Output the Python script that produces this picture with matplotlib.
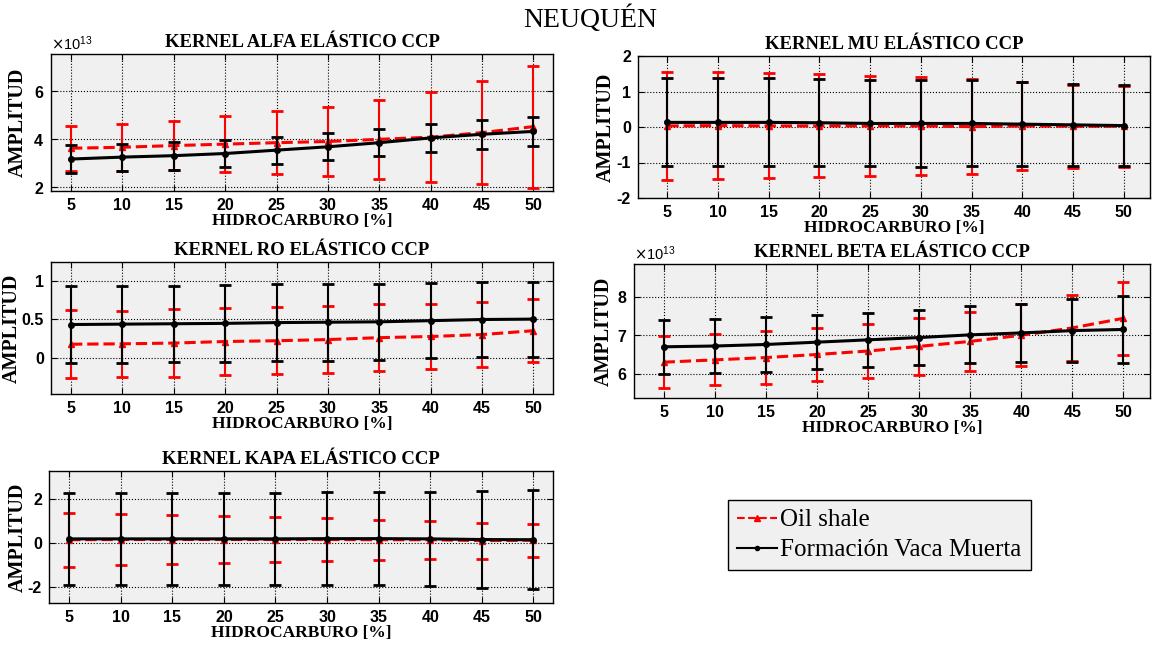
import numpy as np
import matplotlib
matplotlib.use("Agg")
import matplotlib.pyplot as plt
from matplotlib.ticker import ScalarFormatter, FuncFormatter
from matplotlib.lines import Line2D

# Hydrocarbon percentage (x axis of every panel)
pct = [5, 10, 15, 20, 25, 30, 35, 40, 45, 50]

# ALFA kernel (x 1e13)
alfa_shale = [3.63, 3.67, 3.74, 3.80, 3.86, 3.91, 4.00, 4.09, 4.28, 4.53]
alfa_shale_err = [0.93, 0.98, 1.03, 1.17, 1.30, 1.45, 1.63, 1.86, 2.14, 2.54]
alfa_vm = [3.18, 3.26, 3.32, 3.41, 3.55, 3.69, 3.86, 4.06, 4.21, 4.33]
alfa_vm_err = [0.58, 0.56, 0.58, 0.57, 0.56, 0.56, 0.57, 0.58, 0.61, 0.59]

# MU kernel
mu_shale = [0.03, 0.04, 0.03, 0.03, 0.03, 0.03, 0.01, 0.03, 0.02, 0.02]
mu_shale_err = [1.52, 1.50, 1.48, 1.45, 1.41, 1.38, 1.33, 1.25, 1.17, 1.14]
mu_vm = [0.13, 0.13, 0.13, 0.12, 0.10, 0.10, 0.10, 0.08, 0.06, 0.04]
mu_vm_err = [1.24, 1.24, 1.24, 1.23, 1.21, 1.22, 1.21, 1.18, 1.15, 1.15]

# RO kernel
ro_shale = [0.175, 0.18, 0.19, 0.21, 0.22, 0.235, 0.26, 0.275, 0.30, 0.35]
ro_shale_err = [0.44, 0.43, 0.435, 0.435, 0.435, 0.435, 0.43, 0.425, 0.42, 0.41]
ro_vm = [0.43, 0.435, 0.44, 0.445, 0.455, 0.46, 0.465, 0.48, 0.495, 0.50]
ro_vm_err = [0.50, 0.50, 0.49, 0.50, 0.495, 0.50, 0.495, 0.49, 0.49, 0.485]

# BETA kernel (x 1e13)
beta_shale = [6.30, 6.36, 6.42, 6.50, 6.59, 6.71, 6.84, 7.00, 7.19, 7.44]
beta_shale_err = [0.67, 0.66, 0.68, 0.69, 0.70, 0.73, 0.77, 0.81, 0.86, 0.95]
beta_vm = [6.70, 6.72, 6.76, 6.82, 6.88, 6.94, 7.01, 7.06, 7.12, 7.15]
beta_vm_err = [0.70, 0.70, 0.71, 0.70, 0.70, 0.71, 0.74, 0.75, 0.82, 0.88]

# KAPA kernel
kapa_shale = [0.16, 0.17, 0.17, 0.17, 0.17, 0.17, 0.16, 0.16, 0.12, 0.14]
kapa_shale_err = [1.22, 1.165, 1.12, 1.07, 1.02, 0.965, 0.92, 0.865, 0.82, 0.745]
kapa_vm = [0.20, 0.20, 0.20, 0.20, 0.20, 0.21, 0.21, 0.20, 0.17, 0.16]
kapa_vm_err = [2.08, 2.08, 2.08, 2.08, 2.08, 2.13, 2.13, 2.15, 2.21, 2.25]

SERIF = "Liberation Serif"
SANS = "Liberation Sans"

W, H = 1153, 650
fig = plt.figure(figsize=(W / 100, H / 100), dpi=100)
fig.patch.set_facecolor("white")


def px_axes(left, top, right, bottom):
    """Add axes given pixel box (origin top-left)."""
    return fig.add_axes([left / W, 1 - bottom / H, (right - left) / W, (bottom - top) / H])


def kernel_panel(box, title, shale, shale_err, vm, vm_err, ylim, yticks, xlim,
                 ylabel_x, scale=1.0):
    ax = px_axes(*box)
    ax.set_facecolor("#F0F0F0")

    shale = np.asarray(shale) * scale
    shale_err = np.asarray(shale_err) * scale
    vm = np.asarray(vm) * scale
    vm_err = np.asarray(vm_err) * scale

    # Oil shale first (red dashed), Vaca Muerta on top (black solid)
    ax.errorbar(pct, shale, yerr=shale_err, color="red", ls="--", lw=2.2,
                marker="^", ms=4, capsize=4, elinewidth=1.5, capthick=2, zorder=3)
    ax.errorbar(pct, vm, yerr=vm_err, color="black", ls="-", lw=2.2,
                marker="o", ms=4, capsize=4, elinewidth=1.5, capthick=2, zorder=4)

    ax.set_xlim(*xlim)
    ax.set_ylim(ylim[0] * scale, ylim[1] * scale)
    ax.set_xticks(pct)
    ax.set_yticks([t * scale for t in yticks])

    if scale != 1.0:
        fmt = ScalarFormatter(useMathText=True)
        fmt.set_powerlimits((0, 0))
        ax.yaxis.set_major_formatter(fmt)
        ot = ax.yaxis.get_offset_text()
        ot.set_fontsize(10.5)
        ot.set_family(SANS)
    else:
        ax.yaxis.set_major_formatter(FuncFormatter(lambda v, p: f"{v:g}"))

    ax.grid(True, ls=":", color="black", lw=0.8)
    ax.set_axisbelow(True)
    ax.tick_params(direction="in", top=True, right=True, length=4, width=0.8,
                   labelsize=11.5, pad=5)
    for lab in ax.get_xticklabels() + ax.get_yticklabels():
        lab.set_family(SANS)
        lab.set_fontweight("bold")
    for sp in ax.spines.values():
        sp.set_linewidth(1.0)

    ax.set_title(title, family=SERIF, fontweight="bold", fontsize=13.5, pad=5)
    ax.set_xlabel("HIDROCARBURO [%]", family=SERIF, fontweight="bold", fontsize=12.5, labelpad=0)
    ax.set_ylabel("AMPLITUD", family=SERIF, fontweight="bold", fontsize=14.5)
    # fixed label column, like the original
    left, right = box[0], box[2]
    ax.yaxis.set_label_coords((ylabel_x - left) / (right - left), 0.5)
    return ax


left_x = (3.05, 51.9)
right_x = (2.1, 52.6)

kernel_panel((51, 54, 553, 191), "KERNEL ALFA ELÁSTICO CCP",
             alfa_shale, alfa_shale_err, alfa_vm, alfa_vm_err,
             (1.85, 7.55), [2, 4, 6], left_x, 28, scale=1e13)
kernel_panel((638, 56, 1150, 198), "KERNEL MU ELÁSTICO CCP",
             mu_shale, mu_shale_err, mu_vm, mu_vm_err,
             (-2, 2), [-2, -1, 0, 1, 2], right_x, 616)
kernel_panel((51, 262, 553, 394), "KERNEL RO ELÁSTICO CCP",
             ro_shale, ro_shale_err, ro_vm, ro_vm_err,
             (-0.47, 1.24), [0, 0.5, 1], left_x, 22)
kernel_panel((634, 264, 1150, 398), "KERNEL BETA ELÁSTICO CCP",
             beta_shale, beta_shale_err, beta_vm, beta_vm_err,
             (5.37, 8.85), [6, 7, 8], right_x, 614, scale=1e13)
kernel_panel((49, 471, 553, 603), "KERNEL KAPA ELÁSTICO CCP",
             kapa_shale, kapa_shale_err, kapa_vm, kapa_vm_err,
             (-2.72, 3.29), [-2, 0, 2], left_x, 28)

# Main title
fig.text(590 / W, 1 - 19 / H, "NEUQUÉN", family=SERIF, fontsize=20,
         ha="center", va="center")

# Shared legend
handles = [
    Line2D([], [], color="red", ls="--", lw=1.5, marker="^", ms=4),
    Line2D([], [], color="black", ls="-", lw=1.5, marker="o", ms=3),
]
leg = fig.legend(handles, ["Oil shale", "Formación Vaca Muerta"],
                 loc="upper left", bbox_to_anchor=(728 / W, 1 - 500 / H),
                 prop={"family": SERIF, "size": 18}, frameon=True, fancybox=False,
                 handlelength=1.6, handletextpad=0.15, borderpad=0.35,
                 labelspacing=0.3, borderaxespad=0)
leg.get_frame().set_facecolor("#F0F0F0")
leg.get_frame().set_edgecolor("black")
leg.get_frame().set_linewidth(1.0)
leg.get_frame().set_alpha(1)

plt.savefig("out.png", dpi=100)
plt.close(fig)
